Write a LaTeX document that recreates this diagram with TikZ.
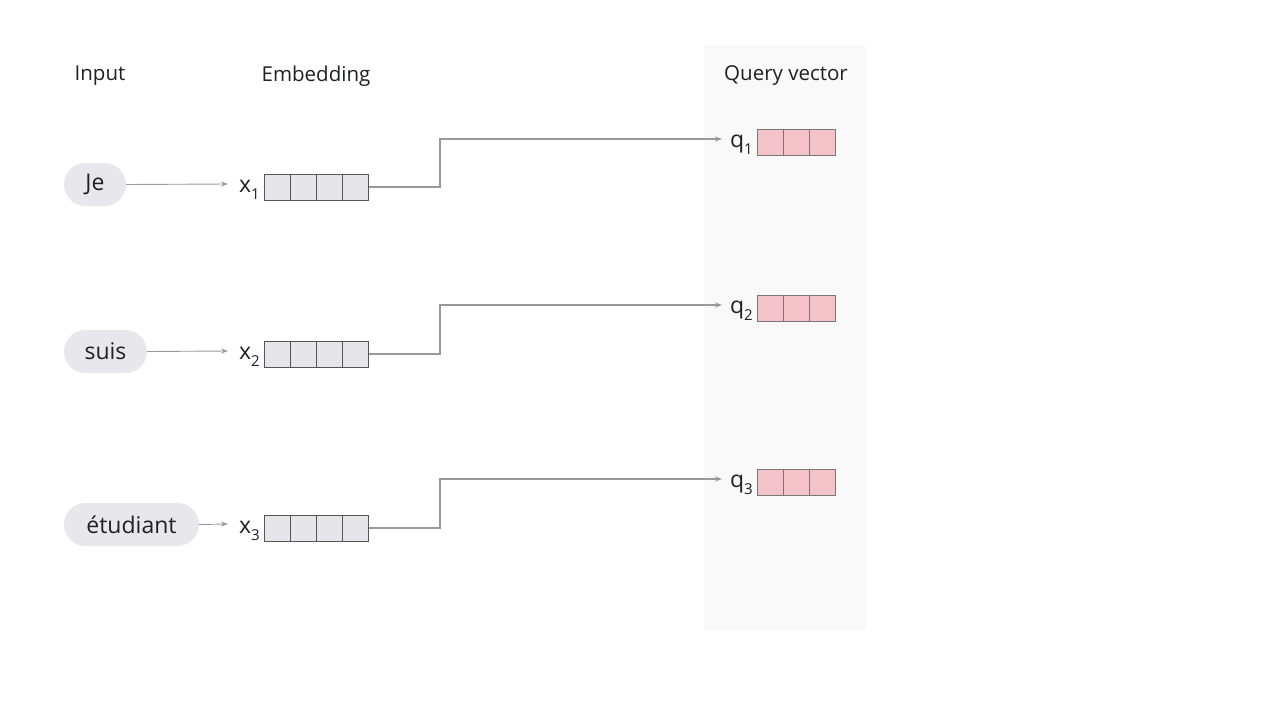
\documentclass[tikz,border=0pt]{standalone}
\usepackage{fontspec}
\setmainfont{Open Sans}
\usetikzlibrary{arrows.meta,calc}
\definecolor{panel}{HTML}{F9F9FA}
\definecolor{pill}{HTML}{E8E8EC}
\definecolor{cellg}{HTML}{E6E6EA}
\definecolor{cellp}{HTML}{F4C3CA}
\definecolor{conn}{HTML}{999999}
\definecolor{edge}{HTML}{555555}
\definecolor{txt}{HTML}{202124}
\begin{document}
\begin{tikzpicture}[x=1pt,y=-1pt,
  lbl/.style={font=\fontsize{20.5}{24}\selectfont,text=txt,inner sep=0pt},
  pillbox/.style={fill=pill,rounded corners=21.5pt,minimum height=43pt,inner xsep=0pt,font=\fontsize{23}{26}\selectfont,text=txt},
  embbox/.style={draw=edge,fill=cellg,line width=0.8pt,minimum width=104pt,minimum height=26pt,inner sep=0pt,anchor=west},
  qbox/.style={draw=edge!80,fill=cellp,line width=0.8pt,minimum width=78pt,minimum height=26pt,inner sep=0pt,anchor=west},
  sub/.style={font=\fontsize{23}{26}\selectfont,text=txt,inner sep=1pt,anchor=east},
  arr/.style={draw=conn,line width=1.1pt,-{Stealth[length=7pt,width=5pt]}},
]
\useasboundingbox (0,0) rectangle (1280,720);
\fill[white] (0,0) rectangle (1280,720);
\fill[panel] (704,45) rectangle (866,630);

\node[lbl] (hin) at (100,76) {Input};
\node[lbl] (hemb) at (316,76) {Embedding};
\node[lbl] (hq) at (786,76) {Query vector};

% pills
\node[pillbox,minimum width=62pt] (p1) at (95,184.5) {Je};
\node[pillbox,minimum width=83pt] (p2) at (105.5,351.5) {suis};
\node[pillbox,minimum width=135pt] (p3) at (131.5,524.5) {étudiant};

% embeddings
\foreach \i/\y in {1/187,2/354,3/528}{
  \node[embbox] (e\i) at (264,\y) {};
  \foreach \k in {1,2,3}{
    \draw[edge,line width=0.8pt] ($(e\i.north west)+(26*\k,0)$) -- ($(e\i.south west)+(26*\k,0)$);
  }
  \node[sub] (x\i) at (261,\y+3) {x\raisebox{-0.6ex}{\fontsize{15}{17}\selectfont\i}};
}
% queries
\foreach \i/\y in {1/142,2/308,3/482}{
  \node[qbox] (q\i) at (757,\y) {};
  \foreach \k in {1,2}{
    \draw[edge!80,line width=0.8pt] ($(q\i.north west)+(26*\k,0)$) -- ($(q\i.south west)+(26*\k,0)$);
  }
  \node[sub] (ql\i) at (754,\y+3) {q\raisebox{-0.6ex}{\fontsize{15}{17}\selectfont\i}};
}

% input arrows
\coordinate (a1) at (228,184);
\coordinate (a2) at (228,351);
\coordinate (a3) at (228,524);
\draw[arr,line width=0.9pt] (p1.east) -- (a1);
\draw[arr,line width=0.9pt] (p2.east) -- (a2);
\draw[arr,line width=0.9pt] (p3.east) -- (a3);

% connectors
\foreach \i/\ya/\yb in {1/187/139,2/354/305,3/528/479}{
  \coordinate (t\i) at (722,\yb);
  \draw[arr] (e\i.east) -- (440,\ya) -- (440,\yb) -- (t\i);
}
\end{tikzpicture}
\end{document}
